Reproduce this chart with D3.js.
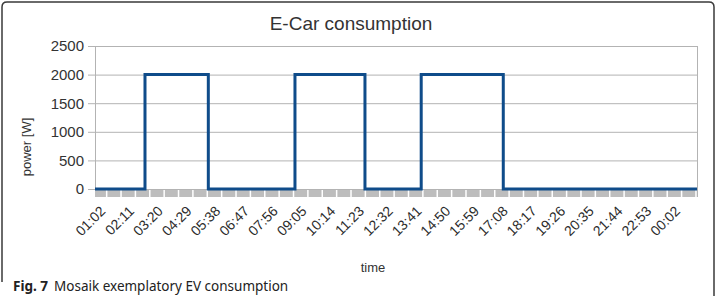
<!DOCTYPE html>
<html>
<head>
<meta charset="utf-8">
<script src="https://cdn.jsdelivr.net/npm/d3@7"></script>
<style>
  html, body { margin: 0; padding: 0; background: #fff; }
  svg { display: block; font-family: "Liberation Sans", Arial, sans-serif; }
</style>
</head>
<body>
<svg id="chart" width="723" height="296"></svg>
<script>
// Dados
const timeLabels = ["01:02", "02:11", "03:20", "04:29", "05:38", "06:47", "07:56", "09:05", "10:14",
  "11:23", "12:32", "13:41", "14:50", "15:59", "17:08", "18:17", "19:26", "20:35", "21:44", "22:53", "00:02"];
const stepTimes = ["00:52", "02:52", "05:24", "08:52", "11:40", "13:55", "17:12", "00:57"];
const stepPower = [0, 2000, 0, 2000, 0, 2000, 0, 0];
const yTicks = [0, 500, 1000, 1500, 2000, 2500];

const width = 723, height = 296;
const plot = { left: 95, right: 697, top: 46, bottom: 189 };

// converte "HH:MM" em minutos, passando da meia-noite quando o tempo volta
function toMinutes(list) {
  let prev = -1, day = 0;
  return list.map(s => {
    const [h, m] = s.split(":").map(Number);
    let v = h * 60 + m + day;
    if (v < prev) { day += 1440; v += 1440; }
    prev = v;
    return v;
  });
}

const stepMin = toMinutes(stepTimes);
const labelMin = toMinutes(timeLabels);
const data = stepMin.map((t, i) => ({ t, p: stepPower[i] }));

const svg = d3.select("#chart");

// moldura
svg.append("path")
  .attr("d", `M2,282 L2,7 Q2,2 7,2 L709,2 Q714,2 714,7 L714,296`)
  .attr("fill", "none")
  .attr("stroke", "#3a3a3a")
  .attr("stroke-width", 1.5);

const x = d3.scaleLinear()
  .domain([stepMin[0], stepMin[stepMin.length - 1]])
  .range([plot.left, plot.right]);

const y = d3.scaleLinear()
  .domain([0, 2500])
  .range([plot.bottom, plot.top]);

// grade horizontal
svg.append("g")
  .selectAll("line")
  .data(yTicks)
  .join("line")
  .attr("x1", plot.left - 7)
  .attr("x2", plot.right)
  .attr("y1", d => y(d) + 0.5)
  .attr("y2", d => y(d) + 0.5)
  .attr("stroke", "#b3b3b3")
  .attr("stroke-width", 1);

// bordas verticais
svg.append("line")
  .attr("x1", plot.left + 0.5).attr("x2", plot.left + 0.5)
  .attr("y1", plot.top).attr("y2", plot.bottom + 8)
  .attr("stroke", "#b3b3b3");
svg.append("line")
  .attr("x1", plot.right + 0.5).attr("x2", plot.right + 0.5)
  .attr("y1", plot.top).attr("y2", plot.bottom + 8)
  .attr("stroke", "#b3b3b3");

// rótulos do eixo Y
svg.append("g")
  .selectAll("text")
  .data(yTicks)
  .join("text")
  .attr("x", plot.left - 11)
  .attr("y", d => y(d))
  .attr("dy", "0.36em")
  .attr("text-anchor", "end")
  .attr("font-size", 15)
  .attr("fill", "#333")
  .text(d => d);

// faixa cinza do eixo X com marcas
svg.append("rect")
  .attr("x", plot.left)
  .attr("y", plot.bottom + 1)
  .attr("width", plot.right - plot.left)
  .attr("height", 7)
  .attr("fill", "#bdbdbd");

const half = (labelMin[1] - labelMin[0]) / 2;
const gaps = labelMin.flatMap(t => [t + 18, t + 18 + half]).filter(t => x(t) < plot.right - 1);
svg.append("g")
  .selectAll("line")
  .data(gaps)
  .join("line")
  .attr("x1", d => x(d))
  .attr("x2", d => x(d))
  .attr("y1", plot.bottom + 1)
  .attr("y2", plot.bottom + 8)
  .attr("stroke", "#fff")
  .attr("stroke-width", 1.5);

// linha de consumo (degraus)
const line = d3.line()
  .x(d => x(d.t))
  .y(d => y(d.p))
  .curve(d3.curveStepAfter);

svg.append("path")
  .datum(data)
  .attr("d", line)
  .attr("fill", "none")
  .attr("stroke", "#0f4c8a")
  .attr("stroke-width", 3);

// rótulos do eixo X (rotacionados)
svg.append("g")
  .selectAll("text")
  .data(labelMin)
  .join("text")
  .attr("transform", d => `translate(${x(d)},205) rotate(-45)`)
  .attr("dy", "0.71em")
  .attr("text-anchor", "end")
  .attr("font-size", 14)
  .attr("fill", "#2b2b2b")
  .text((d, i) => timeLabels[i]);

// título e nomes dos eixos
svg.append("text")
  .attr("x", 351).attr("y", 30)
  .attr("text-anchor", "middle")
  .attr("font-size", 19)
  .attr("fill", "#333")
  .text("E-Car consumption");

svg.append("text")
  .attr("transform", "translate(31,147) rotate(-90)")
  .attr("text-anchor", "middle")
  .attr("font-size", 13)
  .attr("fill", "#333")
  .text("power [W]");

svg.append("text")
  .attr("x", 373).attr("y", 272)
  .attr("text-anchor", "middle")
  .attr("font-size", 13)
  .attr("fill", "#333")
  .text("time");

// legenda da figura
const cap = svg.append("text")
  .attr("x", 13).attr("y", 291)
  .attr("font-family", "'Noto Sans', 'Open Sans', sans-serif")
  .attr("font-size", 13.5)
  .attr("fill", "#222");
cap.append("tspan").attr("font-weight", "bold").text("Fig. 7");
cap.append("tspan").attr("dx", 6).text("Mosaik exemplatory EV consumption");
</script>
</body>
</html>
